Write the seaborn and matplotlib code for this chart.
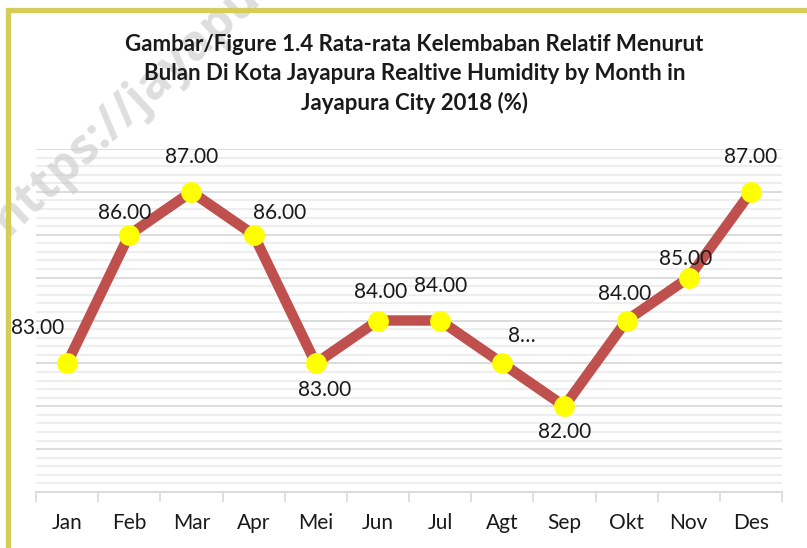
import numpy as np
import pandas as pd
import matplotlib.pyplot as plt
import matplotlib.patches as mpatches
from matplotlib.ticker import MultipleLocator
import seaborn as sns

months = ['Jan', 'Feb', 'Mar', 'Apr', 'Mei', 'Jun',
          'Jul', 'Agt', 'Sep', 'Okt', 'Nov', 'Des']
humidity = [83.0, 86.0, 87.0, 86.0, 83.0, 84.0,
            84.0, 83.0, 82.0, 84.0, 85.0, 87.0]
point_labels = ['83.00', '86.00', '87.00', '86.00', '83.00', '84.00',
                '84.00', '8…', '82.00', '84.00', '85.00', '87.00']

# label offsets in pixels (dx, dy) relative to each marker
label_offsets = [(-29, 35), (-5, 22), (0, 35), (26, 22), (9, -27), (3, 28),
                 (1, 35), (20, 27), (0, -26), (-2, 27), (-3, 19), (0, 35)]

TITLE = ('Gambar/Figure 1.4 Rata-rata Kelembaban Relatif Menurut\n'
         'Bulan Di Kota Jayapura Realtive Humidity by Month in\n'
         'Jayapura City 2018 (%)')

sns.set_theme(style='white')
plt.rcParams['font.family'] = ['Lato', 'DejaVu Sans']

df = pd.DataFrame({'month': months, 'x': np.arange(len(months)), 'rh': humidity})

fig = plt.figure(figsize=(8.07, 5.48), dpi=100)

# watermark (drawn first so the chart sits on top)
fig.text(8 / 807, 1 - 236 / 548, 'https://jayapu',
         rotation=43, rotation_mode='anchor', ha='left', va='baseline',
         fontsize=35, fontweight='bold', family='Open Sans',
         color='#c8c8c8', alpha=0.6, zorder=0)

ax = fig.add_axes([36 / 807, 1 - 492 / 548, (782 - 36) / 807, (492 - 149) / 548])
ax.patch.set_alpha(0)

sns.lineplot(data=df, x='x', y='rh', ax=ax, color='#C0504D', linewidth=7.5,
             marker='o', markersize=15, markerfacecolor='#FFFF00',
             markeredgewidth=0, zorder=5)

for xi, yi, lab, (dx, dy) in zip(df['x'], df['rh'], point_labels, label_offsets):
    ax.annotate(lab, xy=(xi, yi), xytext=(dx, dy), textcoords='offset pixels',
                ha='center', va='center', fontsize=15, color='#1a1a1a', zorder=6)

ax.set_xlim(-0.5, len(months) - 0.5)
ax.set_ylim(80, 88)
ax.yaxis.set_major_locator(MultipleLocator(1))
ax.yaxis.set_minor_locator(MultipleLocator(0.2))
ax.grid(which='major', axis='y', color='#d9d9d9', linewidth=1.3)
ax.grid(which='minor', axis='y', color='#eeeeee', linewidth=1.5)
ax.set_axisbelow(True)
ax.tick_params(axis='y', which='both', left=False, labelleft=False)

ax.set_xticks(df['x'])
ax.set_xticklabels(months, fontsize=15, color='#1a1a1a')
ax.set_xticks(np.arange(-0.5, len(months)), minor=True)
ax.tick_params(axis='x', which='major', length=0, pad=15)
ax.tick_params(axis='x', which='minor', length=7, width=1.2, color='#d9d9d9',
               direction='out', bottom=True)

for side in ['top', 'right', 'left']:
    ax.spines[side].set_visible(False)
ax.spines['bottom'].set_color('#d9d9d9')
ax.spines['bottom'].set_linewidth(1.3)
ax.set_xlabel('')
ax.set_ylabel('')

fig.text(0.5 + 11 / 807, 1 - 74 / 548, TITLE, ha='center', va='center',
         fontsize=16, fontweight='bold', color='#1a1a1a', linespacing=1.48,
         zorder=3)

# chart frame border
frame = mpatches.Rectangle((7.5 / 807, -0.1), 1.2, 1.1 - 10.5 / 548,
                           transform=fig.transFigure, fill=False,
                           edgecolor='#D8CC58', linewidth=3.8)
fig.patches.append(frame)

fig.savefig('out.png', dpi=100)
plt.close(fig)
